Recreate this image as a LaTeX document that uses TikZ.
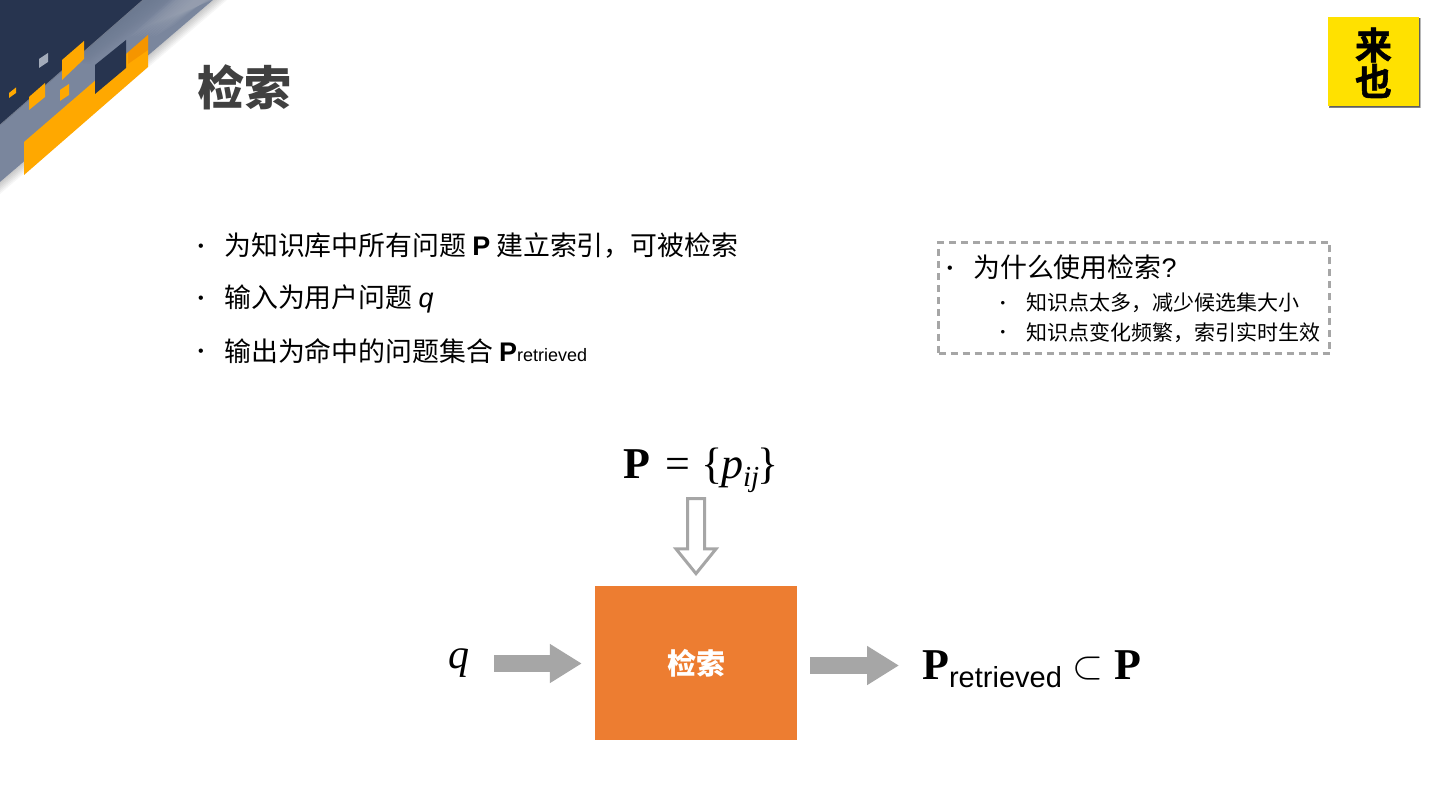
\documentclass[tikz,border=0pt]{standalone}
\usepackage{fontspec}
\setmainfont{Liberation Sans}
\newfontfamily\serifmath{Liberation Serif}
\newfontfamily\cjk{Noto Sans CJK SC}
\newfontfamily\cjklogo[FakeBold=1.5]{Noto Sans CJK SC Bold}
\usetikzlibrary{arrows.meta,shapes.arrows}
\newcommand{\setfs}[1]{\fontsize{#1}{#1}\selectfont}
\definecolor{navy}{HTML}{27344F}
\definecolor{amber}{HTML}{FFA800}
\definecolor{arrowgrey}{HTML}{A6A6A6}
\definecolor{boxorange}{HTML}{ED7D31}
\definecolor{bandmain}{HTML}{7A869D}
\definecolor{banddark}{HTML}{6B7890}
\definecolor{bandlight}{HTML}{A3ABBA}
\definecolor{logoyellow}{HTML}{FFE100}
\tikzset{
  txt/.style={inner sep=0pt,anchor=base west,text=black},
  bigtxt/.style={txt,font=\cjk\setfs{26.9}},
  subtxt/.style={txt,font=\cjk\setfs{21}},
  dot/.style={inner sep=0pt,anchor=center,font=\setfs{16}},
  blockarrow/.style={draw=arrowgrey,line width=17pt,-{Triangle[length=32pt,width=37pt]}},
}
\begin{document}
\begin{tikzpicture}[x=1pt,y=-1pt]
\useasboundingbox (0,0) rectangle (1440,810);
\fill[white] (0,0) rectangle (1440,810);
% banner
\foreach \i in {0,2,4,6,8,10,12}{
  \fill[black,opacity=.035] (0,182+\i) -- (213+1.17*\i,0) -- (213,0) -- (0,182) -- cycle;
}
\fill[bandmain] (0,125) -- (143,0) -- (213,0) -- (0,182) -- cycle;
\foreach \i in {0,3,6,9,12,15,18,21,24}{
  \fill[bandlight,opacity=.13] (213,0) -- (170+\i,0) -- (130+\i,37) -- (150+\i,37-12) -- (213-\i*.3,0) -- cycle;
  \fill[banddark,opacity=.12] (143,0) -- (175-\i,0) -- (90,64-\i*.8) -- (70,61) -- cycle;
}
\fill[navy] (0,0) -- (143,0) -- (0,125) -- cycle;
\draw[navy!65!white,line width=.8pt] (143,0) -- (0,125);
\fill[amber] (24,142) -- (148,35) -- (148,67) -- (24,175) -- cycle;
\fill[orange!90!black,opacity=.35] (128,52) -- (148,35) -- (148,50) -- (128,64) -- cycle;
\fill[navy] (95,65) -- (126,40) -- (126,68) -- (95,94) -- cycle;
\fill[amber] (62,60) -- (84,41) -- (84,59) -- (62,80) -- cycle;
\fill[amber] (29,97) -- (45,83) -- (45,97) -- (29,110) -- cycle;
\fill[amber] (60,90) -- (69,84) -- (69,95) -- (60,101) -- cycle;
\fill[amber] (9,93) -- (16,87.5) -- (16,93) -- (9,98) -- cycle;
\fill[bandlight] (39,59) -- (48,53) -- (48,62) -- (39,68) -- cycle;
% title
\node[txt,text=black!75,font=\cjk\bfseries\setfs{47}] (title) at (197,106) {检索};
% logo
\foreach \i in {0,1,2,3}{
  \fill[black,opacity=.28] (1330-\i*.5,18) rectangle (1419+\i*.7,106+\i*.8);
}
\node[fill=logoyellow,minimum width=91pt,minimum height=89pt,inner sep=0pt] (logo) at (1373.5,61.5) {};
\node[inner sep=0pt,font=\cjklogo\setfs{37}] (lai) at (1373.5,45) {来};
\node[inner sep=0pt,font=\cjklogo\setfs{37}] (ye) at (1373.5,81) {也};
% bullets
\node[dot] (b1) at (201,248) {•};
\node[bigtxt] (t1) at (224,256) {为知识库中所有问题 {\rmfamily\bfseries P} 建立索引，可被检索};
\node[dot] (b2) at (201,300) {•};
\node[bigtxt] (t2) at (224,308) {输入为用户问题 {\rmfamily\itshape q}};
\node[dot] (b3) at (201,353) {•};
\node[bigtxt] (t3) at (224,361) {输出为命中的问题集合 {\rmfamily\bfseries P}{\rmfamily\setfs{18}retrieved}};
% dashed box
\node[draw=arrowgrey,line width=2.5pt,dash pattern=on 7pt off 5pt,minimum width=391pt,minimum height=111pt,inner sep=0pt] (why) at (1134,298) {};
\node[dot] (b4) at (950,270) {•};
\node[bigtxt] (t4) at (973,278) {为什么使用检索{\rmfamily ?}};
\node[dot,font=\setfs{13}] (b5) at (1003,304.5) {•};
\node[subtxt] (t5) at (1026,310) {知识点太多，减少候选集大小};
\node[dot,font=\setfs{13}] (b6) at (1003,333.5) {•};
\node[subtxt] (t6) at (1026,340) {知识点变化频繁，索引实时生效};
% diagram
\node[fill=boxorange,text=white,font=\cjk\bfseries\setfs{29},minimum width=202pt,minimum height=154pt,inner sep=0pt] (box) at (696,663) {检索};
\node[txt,font=\serifmath\setfs{44}] (pset) at (623,478) {\textbf{P} \hspace{4pt}= \hspace{1pt}\{\hspace{-2pt}\textit{p}\raisebox{-8pt}{\setfs{29}\textit{ij}}\hspace{-2pt}\}};
\node[single arrow,draw=arrowgrey,fill=white,line width=3pt,shape border rotate=270,single arrow tip angle=78,minimum height=75pt,minimum width=40pt,single arrow head extend=11.5pt,inner sep=7pt,anchor=tip] (down) at (696,576) {};
\node[txt,font=\serifmath\itshape\setfs{42}] (q) at (448,668) {q};
\coordinate (a1s) at (494,663.5);
\coordinate (a2s) at (899,665.5);
\draw[blockarrow,shorten >=13pt] (a1s) -- (box.west|-a1s);
\draw[blockarrow,shorten <=13pt] (box.east|-a2s) -- (a2s);
\node[txt,font=\serifmath\setfs{44}] (res) at (922,679) {\textbf{P}\raisebox{-8pt}{\rmfamily\setfs{29}retrieved}\hspace{11pt}\raisebox{1pt}{\scalebox{1.6}{$\subset$}}\hspace{11pt}\textbf{P}};
\end{tikzpicture}
\end{document}
